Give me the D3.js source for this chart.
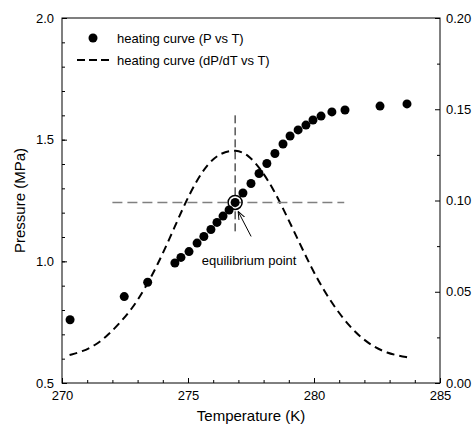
<!DOCTYPE html>
<html>
<head>
<meta charset="utf-8">
<script src="https://cdn.jsdelivr.net/npm/d3@7"></script>
<style>
  body { margin: 0; background: #fff; }
  svg text { font-family: "Liberation Sans", Arial, sans-serif; }
</style>
</head>
<body>
<div id="chart"></div>
<script>
// heating curve, pressure vs temperature
const tempP = [270.32, 272.47, 273.40, 274.48, 274.72, 275.04, 275.36, 275.63, 275.91, 276.15,
  276.39, 276.63, 276.87, 277.18, 277.50, 277.82, 278.13, 278.45, 278.77, 279.05, 279.37,
  279.68, 279.96, 280.28, 280.71, 281.23, 282.62, 283.69];
const pressure = [0.76, 0.855, 0.914, 0.993, 1.016, 1.040, 1.075, 1.102, 1.131, 1.160,
  1.186, 1.211, 1.242, 1.281, 1.320, 1.361, 1.402, 1.443, 1.482, 1.515, 1.540,
  1.560, 1.581, 1.597, 1.614, 1.622, 1.638, 1.647];

// derivative curve dP/dT
const tempD = [270.3, 270.8, 271.3, 271.8, 272.3, 272.8, 273.3, 273.8, 274.3, 274.8, 275.3,
  275.8, 276.3, 276.9, 277.4, 277.9, 278.4, 278.9, 279.4, 279.9, 280.4, 280.9, 281.4,
  281.9, 282.4, 282.9, 283.4, 283.7];
const dPdT = [0.0153, 0.0172, 0.0205, 0.0258, 0.0330, 0.0410, 0.0520, 0.0650, 0.0800, 0.0960, 0.1100,
  0.1205, 0.1262, 0.1280, 0.1250, 0.1170, 0.1060, 0.0920, 0.0775, 0.0630, 0.0505, 0.0400, 0.0312,
  0.0245, 0.0196, 0.0165, 0.0148, 0.0141];

const eqT = 276.87, eqP = 1.242;
const hLine = [272.0, 281.2];   // horizontal guide, in K
const vLine = [1.60, 1.12];     // vertical guide, in MPa

const xTicks = [270, 275, 280, 285];
const yTicks = [0.5, 1.0, 1.5, 2.0];
const y2Ticks = [0, 0.05, 0.10, 0.15, 0.20];

const W = 472, H = 434;
const m = {top: 18, right: 32, bottom: 51, left: 62};
const iw = W - m.left - m.right, ih = H - m.top - m.bottom;

const svg = d3.select("#chart").append("svg").attr("width", W).attr("height", H);
const g = svg.append("g").attr("transform", `translate(${m.left},${m.top})`);

const x = d3.scaleLinear().domain([270, 285]).range([0, iw]);
const y = d3.scaleLinear().domain([0.5, 2.0]).range([ih, 0]);
const y2 = d3.scaleLinear().domain([0, 0.2]).range([ih, 0]);

// minor ticks
g.append("g").attr("transform", `translate(0,${ih})`)
  .call(d3.axisBottom(x).tickValues(d3.range(271, 285)).tickSize(-3).tickFormat(""));
g.append("g")
  .call(d3.axisLeft(y).tickValues(d3.range(0.6, 2.0, 0.1)).tickSize(-3).tickFormat(""));
g.append("g").attr("transform", `translate(${iw},0)`)
  .call(d3.axisRight(y2).tickValues([0.025, 0.075, 0.125, 0.175]).tickSize(-3).tickFormat(""));

// major ticks
g.append("g").attr("class", "ax").attr("transform", `translate(0,${ih})`)
  .call(d3.axisBottom(x).tickValues(xTicks).tickSize(-5).tickPadding(8).tickFormat(d3.format("d")));
g.append("g").attr("class", "ax")
  .call(d3.axisLeft(y).tickValues(yTicks).tickSize(-5).tickPadding(8).tickFormat(d3.format(".1f")));
g.append("g").attr("class", "ax").attr("transform", `translate(${iw},0)`)
  .call(d3.axisRight(y2).tickValues(y2Ticks).tickSize(-5).tickPadding(6).tickFormat(d3.format(".2f")));

g.selectAll(".domain").remove();
g.selectAll(".tick line").attr("stroke", "#000");
g.selectAll(".ax text").attr("font-size", 13).attr("fill", "#000");

g.append("rect").attr("width", iw).attr("height", ih)
  .attr("fill", "none").attr("stroke", "#000").attr("stroke-width", 1);

// axis titles
svg.append("text").attr("x", m.left + iw / 2).attr("y", 421)
  .attr("text-anchor", "middle").attr("font-size", 15).text("Temperature (K)");
svg.append("text").attr("transform", `translate(25,${m.top + ih / 2}) rotate(-90)`)
  .attr("text-anchor", "middle").attr("font-size", 15).text("Pressure (MPa)");

// dP/dT curve
const line = d3.line().x((d, i) => x(tempD[i])).y(d => y2(d)).curve(d3.curveBasis);
g.append("path").datum(dPdT).attr("d", line)
  .attr("fill", "none").attr("stroke", "#000").attr("stroke-width", 2)
  .attr("stroke-dasharray", "8,5");

// guides through equilibrium point
g.append("line").attr("x1", x(hLine[0])).attr("x2", x(hLine[1]))
  .attr("y1", y(eqP)).attr("y2", y(eqP))
  .attr("stroke", "#808080").attr("stroke-width", 1.5).attr("stroke-dasharray", "10,5");
g.append("line").attr("x1", x(eqT)).attr("x2", x(eqT))
  .attr("y1", y(vLine[0])).attr("y2", y(vLine[1]))
  .attr("stroke", "#000").attr("stroke-width", 1).attr("stroke-dasharray", "8,4");

// points
g.selectAll("circle.pt").data(pressure).join("circle").attr("class", "pt")
  .attr("cx", (d, i) => x(tempP[i])).attr("cy", d => y(d)).attr("r", 4.5).attr("fill", "#000");

// equilibrium marker
g.append("circle").attr("cx", x(eqT)).attr("cy", y(eqP)).attr("r", 7)
  .attr("fill", "none").attr("stroke", "#000").attr("stroke-width", 1.5);

// annotation with arrow
svg.append("defs").append("marker").attr("id", "arr")
  .attr("viewBox", "0 0 10 10").attr("refX", 10).attr("refY", 5)
  .attr("markerWidth", 8).attr("markerHeight", 8).attr("orient", "auto")
  .append("path").attr("d", "M0,1 L10,5 L0,9").attr("fill", "none").attr("stroke", "#000").attr("stroke-width", 1.2);
const ax0 = x(eqT) + 16, ay0 = y(eqP) + 34;
g.append("line").attr("x1", ax0).attr("y1", ay0)
  .attr("x2", x(eqT) + 3).attr("y2", y(eqP) + 9)
  .attr("stroke", "#000").attr("stroke-width", 1).attr("marker-end", "url(#arr)");
g.append("text").attr("x", x(eqT) + 14).attr("y", y(eqP) + 63)
  .attr("text-anchor", "middle").attr("font-size", 13).text("equilibrium point");

// legend
const lg = svg.append("g");
lg.append("circle").attr("cx", 93).attr("cy", 38).attr("r", 4.5).attr("fill", "#000");
lg.append("text").attr("x", 117).attr("y", 42.5).attr("font-size", 13).text("heating curve (P vs T)");
lg.append("line").attr("x1", 77).attr("x2", 110).attr("y1", 60).attr("y2", 60)
  .attr("stroke", "#000").attr("stroke-width", 2).attr("stroke-dasharray", "8,4");
lg.append("text").attr("x", 117).attr("y", 64.5).attr("font-size", 13).text("heating curve (dP/dT vs T)");
</script>
</body>
</html>
